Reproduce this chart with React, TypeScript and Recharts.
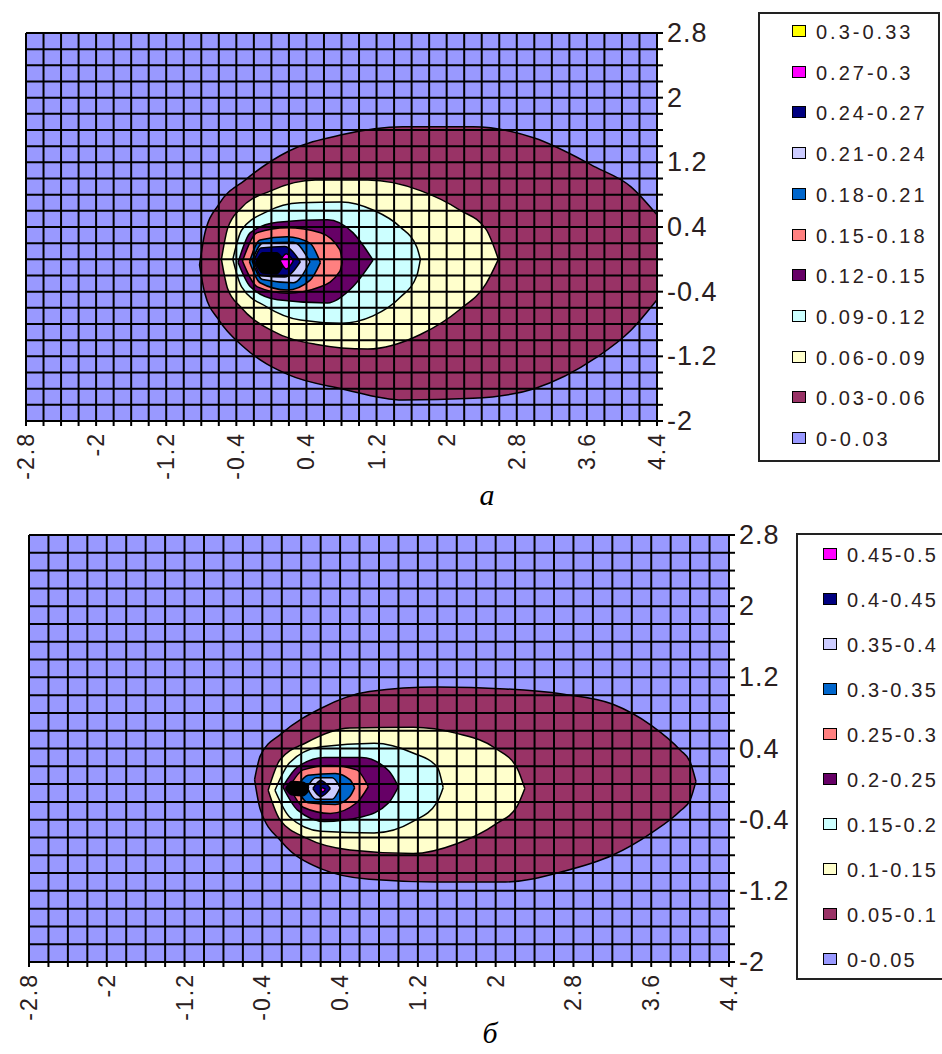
import { ComposedChart, Area, XAxis, YAxis, CartesianGrid } from "recharts";

// grid of the surface: step 0.2 on both axes
const xTicks = Array.from({ length: 37 }, (_, i) => Math.round((-2.8 + i * 0.2) * 10) / 10);
const yTicks = Array.from({ length: 25 }, (_, i) => Math.round((-2 + i * 0.2) * 10) / 10);
const xLabels = ["-2.8", "-2", "-1.2", "-0.4", "0.4", "1.2", "2", "2.8", "3.6", "4.4"];
const yLabels = ["2.8", "2", "1.2", "0.4", "-0.4", "-1.2", "-2"];

// legend bands (top to bottom)
const bandsA = ["0.3-0.33", "0.27-0.3", "0.24-0.27", "0.21-0.24", "0.18-0.21", "0.15-0.18", "0.12-0.15", "0.09-0.12", "0.06-0.09", "0.03-0.06", "0-0.03"];
const colorsA = ["#FFFF00", "#FF00FF", "#000080", "#CCCCFF", "#0066CC", "#FF8080", "#660066", "#CCFFFF", "#FFFFCC", "#993366", "#9999FF"];
const bandsB = ["0.45-0.5", "0.4-0.45", "0.35-0.4", "0.3-0.35", "0.25-0.3", "0.2-0.25", "0.15-0.2", "0.1-0.15", "0.05-0.1", "0-0.05"];
const colorsB = ["#FF00FF", "#000080", "#CCCCFF", "#0066CC", "#FF8080", "#660066", "#CCFFFF", "#FFFFCC", "#993366", "#9999FF"];

// contour lines, chart a: x positions with upper / lower edge of the region above the level
const a003 = { x: [-0.82, -0.76, -0.6, -0.3, 0.2, 0.8, 1.5, 2.3, 3.0, 3.7, 4.1, 4.4], hi: [-0.07, 0.32, 0.68, 0.98, 1.34, 1.54, 1.64, 1.64, 1.5, 1.14, 0.9, 0.55], lo: [-0.07, -0.42, -0.75, -1.1, -1.43, -1.6, -1.74, -1.72, -1.6, -1.22, -0.88, -0.5] };
const a006 = { x: [-0.57, -0.5, -0.35, 0, 0.5, 1.1, 1.7, 2.15, 2.45, 2.59], hi: [0, 0.38, 0.63, 0.85, 0.98, 0.98, 0.85, 0.61, 0.37, 0], lo: [0, -0.36, -0.59, -0.88, -1.05, -1.11, -0.93, -0.62, -0.3, 0] };
const a009 = { x: [-0.44, -0.34, -0.05, 0.33, 0.8, 1.16, 1.47, 1.66, 1.7], hi: [0, 0.36, 0.59, 0.7, 0.71, 0.61, 0.4, 0.15, 0], lo: [0, -0.34, -0.59, -0.75, -0.79, -0.7, -0.47, -0.2, 0] };
const a012 = { x: [-0.38, -0.24, 0.07, 0.64, 0.93, 1.16], hi: [-0.04, 0.33, 0.46, 0.49, 0.33, -0.01], lo: [-0.04, -0.34, -0.5, -0.54, -0.34, -0.01] };
const a015 = { x: [-0.33, -0.16, 0.18, 0.56, 0.78, 0.81], hi: [-0.02, 0.33, 0.39, 0.33, 0.12, -0.03], lo: [-0.02, -0.34, -0.42, -0.34, -0.15, -0.03] };
const a018 = { x: [-0.25, -0.13, 0.18, 0.44, 0.56], hi: [-0.03, 0.24, 0.28, 0.2, -0.04], lo: [-0.03, -0.29, -0.38, -0.26, -0.04] };
const a021 = { x: [-0.22, -0.1, 0.25, 0.44], hi: [-0.02, 0.2, 0.21, -0.03], lo: [-0.02, -0.25, -0.29, -0.03] };
const a024 = { x: [-0.2, -0.12, 0.15, 0.33], hi: [-0.02, 0.14, 0.16, -0.03], lo: [-0.02, -0.2, -0.22, -0.03] };
const aCore = { x: [-0.18, -0.1, 0.06, 0.14], hi: [-0.04, 0.08, 0.08, -0.01], lo: [-0.04, -0.17, -0.18, -0.06] };
const a027 = { x: [0.1, 0.17, 0.25], hi: [-0.02, 0.07, -0.02], lo: [-0.02, -0.12, -0.02] };

// contour lines, chart б
const b005 = { x: [-0.48, -0.42, -0.2, 0.2, 0.7, 1.4, 2.1, 2.7, 3.2, 3.6, 3.9, 4.0, 4.06], hi: [0.05, 0.32, 0.57, 0.85, 1.04, 1.09, 1.07, 1.01, 0.9, 0.66, 0.38, 0.25, 0.03], lo: [0.05, -0.29, -0.65, -0.95, -1.07, -1.1, -1.1, -0.98, -0.8, -0.55, -0.3, -0.18, 0.03] };
const b010 = { x: [-0.34, -0.22, 0.06, 0.5, 1.15, 1.6, 2.0, 2.22, 2.3], hi: [-0.07, 0.27, 0.47, 0.63, 0.64, 0.57, 0.4, 0.18, -0.05], lo: [-0.07, -0.4, -0.61, -0.74, -0.78, -0.67, -0.45, -0.25, -0.05] };
const b015 = { x: [-0.27, -0.12, 0.2, 0.75, 1.15, 1.4, 1.46], hi: [-0.07, 0.24, 0.42, 0.46, 0.35, 0.19, -0.04], lo: [-0.07, -0.37, -0.53, -0.55, -0.42, -0.2, -0.04] };
const b020 = { x: [-0.19, -0.04, 0.24, 0.62, 0.9, 1.0], hi: [-0.03, 0.19, 0.3, 0.3, 0.15, -0.03], lo: [-0.03, -0.29, -0.42, -0.37, -0.21, -0.03] };
const b025 = { x: [-0.12, 0.02, 0.3, 0.57, 0.69], hi: [-0.03, 0.16, 0.21, 0.16, -0.03], lo: [-0.03, -0.26, -0.33, -0.21, -0.03] };
const b030 = { x: [-0.05, 0.07, 0.35, 0.5, 0.55], hi: [-0.04, 0.1, 0.12, 0.05, -0.04], lo: [-0.04, -0.21, -0.23, -0.14, -0.04] };
const b035 = { x: [0.06, 0.15, 0.32, 0.4], hi: [-0.04, 0.07, 0.07, -0.04], lo: [-0.04, -0.17, -0.17, -0.04] };
const bCore = { x: [-0.16, -0.1, 0.02, 0.08], hi: [-0.05, 0.03, 0.02, -0.04], lo: [-0.05, -0.12, -0.13, -0.07] };
const b040 = { x: [0.12, 0.2, 0.3], hi: [-0.05, 0.04, -0.05], lo: [-0.05, -0.14, -0.05] };
const b045 = { x: [0.2, 0.22, 0.25], hi: [-0.06, -0.04, -0.06], lo: [-0.06, -0.09, -0.06] };

type Contour = { x: number[]; hi: number[]; lo: number[] };

const toRows = (c: Contour) => c.x.map((x, i) => ({ x, band: [c.lo[i], c.hi[i]] }));

const contoursA: [Contour, string][] = [
  [a003, "#993366"], [a006, "#FFFFCC"], [a009, "#CCFFFF"], [a012, "#660066"], [a015, "#FF8080"],
  [a018, "#0066CC"], [a021, "#CCCCFF"], [a024, "#000080"], [aCore, "#000000"], [a027, "#FF00FF"],
];
const contoursB: [Contour, string][] = [
  [b005, "#993366"], [b010, "#FFFFCC"], [b015, "#CCFFFF"], [b020, "#660066"], [b025, "#FF8080"],
  [b030, "#0066CC"], [b035, "#CCCCFF"], [bCore, "#000000"], [b040, "#000080"], [b045, "#FF00FF"],
];

const FONT = "'Liberation Sans', Arial, sans-serif";
const TEXT = "#2a2020";

const XTick = (props: any) => {
  const { x, y, payload } = props;
  const label = xLabels.find((l) => Math.abs(parseFloat(l) - payload.value) < 1e-6);
  if (!label) return <g />;
  return (
    <text
      x={x}
      y={y}
      transform={`rotate(-90, ${x}, ${y})`}
      textAnchor="end"
      dominantBaseline="central"
      fontFamily={FONT}
      fontSize={23}
      letterSpacing={2}
      fill={TEXT}
    >
      {label}
    </text>
  );
};

const YTick = (props: any) => {
  const { x, y, payload } = props;
  const label = yLabels.find((l) => Math.abs(parseFloat(l) - payload.value) < 1e-6);
  if (!label) return <g />;
  return (
    <text x={x} y={y} textAnchor="start" dominantBaseline="central" fontFamily={FONT} fontSize={27} letterSpacing={1} fill={TEXT}>
      {label}
    </text>
  );
};

const ContourPanel = ({
  contours,
  height,
  margin,
}: {
  contours: [Contour, string][];
  height: number;
  margin: { top: number; left: number; right: number; bottom: number };
}) => (
  <ComposedChart width={942} height={height} margin={margin}>
    <CartesianGrid fill="#9999FF" fillOpacity={1} horizontal={false} vertical={false} />
    <XAxis
      type="number"
      dataKey="x"
      domain={[-2.8, 4.4]}
      ticks={xTicks}
      interval={0}
      allowDataOverflow
      height={60}
      tickSize={5}
      tickMargin={6}
      axisLine={{ stroke: "#000", strokeWidth: 2 }}
      tickLine={{ stroke: "#000", strokeWidth: 2 }}
      tick={XTick}
    />
    <YAxis
      type="number"
      orientation="right"
      domain={[-2, 2.8]}
      ticks={yTicks}
      interval={0}
      allowDataOverflow
      width={70}
      tickSize={6}
      tickMargin={4}
      axisLine={{ stroke: "#000", strokeWidth: 2 }}
      tickLine={{ stroke: "#000", strokeWidth: 2 }}
      tick={YTick}
    />
    {contours.map(([c, color], i) => (
      <Area
        key={i}
        data={toRows(c)}
        dataKey="band"
        type="monotone"
        fill={color}
        fillOpacity={1}
        stroke="#000"
        strokeWidth={1.5}
        dot={false}
        activeDot={false}
        isAnimationActive={false}
      />
    ))}
    <CartesianGrid stroke="#000" strokeWidth={2} fill="none" zIndex={450} />
  </ComposedChart>
);

const LegendBox = ({
  labels,
  colors,
  left,
  top,
  width,
  height,
  firstY,
  step,
  swatchX,
  textX,
  spacing,
}: {
  labels: string[];
  colors: string[];
  left: number;
  top: number;
  width: number;
  height: number;
  firstY: number;
  step: number;
  swatchX: number;
  textX: number;
  spacing: number;
}) => (
  <div
    style={{
      position: "absolute",
      left,
      top,
      width,
      height,
      border: "2px solid #222",
      boxSizing: "border-box",
      background: "#fff",
    }}
  >
    {labels.map((l, i) => (
      <div key={l}>
        <div
          style={{
            position: "absolute",
            left: swatchX - left - 7,
            top: firstY - top + i * step - 7,
            width: 14,
            height: 12,
            background: colors[i],
            border: "1.5px solid #000",
            boxSizing: "border-box",
          }}
        />
        <div
          style={{
            position: "absolute",
            left: textX - left,
            top: firstY - top + i * step - 13,
            fontFamily: FONT,
            fontSize: 20,
            letterSpacing: spacing,
            lineHeight: "26px",
            color: TEXT,
            whiteSpace: "nowrap",
          }}
        >
          {l}
        </div>
      </div>
    ))}
  </div>
);

const captionStyle = {
  position: "absolute" as const,
  fontFamily: "'Liberation Serif', 'Times New Roman', serif",
  fontStyle: "italic",
  fontSize: 30,
  color: "#000",
  lineHeight: "30px",
  width: 40,
  textAlign: "center" as const,
};

export default function App() {
  return (
    <div style={{ position: "absolute", left: 0, top: 0, width: 942, height: 1054, overflow: "hidden", background: "#fff" }}>
      <div style={{ position: "absolute", left: 0, top: 0 }}>
        <ContourPanel contours={contoursA} height={500} margin={{ top: 33, left: 26, right: 215, bottom: 19 }} />
      </div>
      <div style={{ position: "absolute", left: 0, top: 500 }}>
        <ContourPanel contours={contoursB} height={554} margin={{ top: 35, left: 29, right: 143, bottom: 32 }} />
      </div>
      <LegendBox labels={bandsA} colors={colorsA} left={758} top={12} width={182} height={450} firstY={30} step={40.7} swatchX={797} textX={814} spacing={3} />
      <LegendBox labels={bandsB} colors={colorsB} left={796} top={533} width={170} height={447} firstY={553} step={45} swatchX={828} textX={845} spacing={2.2} />
      <div style={{ ...captionStyle, left: 467, top: 480 }}>a</div>
      <div style={{ ...captionStyle, left: 470, top: 1018 }}>б</div>
    </div>
  );
}
